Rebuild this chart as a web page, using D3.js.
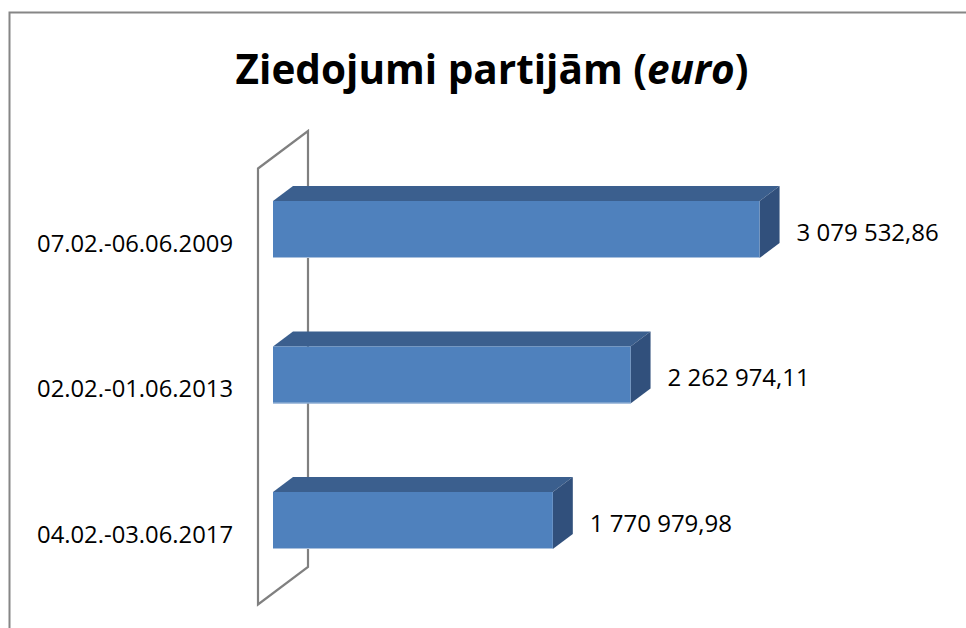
<!DOCTYPE html>
<html>
<head>
<meta charset="utf-8">
<script src="https://cdn.jsdelivr.net/npm/d3@7"></script>
<style>
  body { margin: 0; background: #fff; }
  svg { display: block; }
</style>
</head>
<body>
<div id="chart"></div>
<script>
// donations to parties, euro
const categories = ['07.02.-06.06.2009', '02.02.-01.06.2013', '04.02.-03.06.2017'];
const values = [3079532.86, 2262974.11, 1770979.98];
const valueLabels = ['3 079 532,86', '2 262 974,11', '1 770 979,98'];

const width = 966, height = 628;
const depthX = 20, depthY = 15;   // 3d offset of bar depth
const barH = 57;
const font = '"Open Sans", "Noto Sans", sans-serif';

const svg = d3.select('#chart').append('svg')
  .attr('width', width)
  .attr('height', height);

// chart frame (runs off right/bottom edge)
svg.append('rect')
  .attr('x', 9.5).attr('y', 12.5)
  .attr('width', 1000).attr('height', 700)
  .attr('fill', '#fff')
  .attr('stroke', '#868686')
  .attr('stroke-width', 2);

// title
const title = svg.append('text')
  .attr('x', 492).attr('y', 84)
  .attr('text-anchor', 'middle')
  .attr('font-family', font)
  .attr('font-weight', 'bold')
  .attr('font-size', 40.5)
  .attr('fill', '#000');
title.append('tspan').text('Ziedojumi partijām (');
title.append('tspan').attr('font-style', 'italic').text('euro');
title.append('tspan').text(')');

const x = d3.scaleLinear().domain([0, 3500000]).range([273, 826]);
const y = d3.scalePoint().domain(categories).range([229.5, 520.5]);

// back wall
const wallL = 258, wallR = 308, wallTop = 131, wallBot = 567;
const wallDy = (wallR - wallL) * depthY / depthX;
svg.append('path')
  .attr('d', `M${wallL},${wallTop + wallDy}L${wallR},${wallTop}L${wallR},${wallBot}L${wallL},${wallBot + wallDy}Z`)
  .attr('fill', 'none')
  .attr('stroke', '#808080')
  .attr('stroke-width', 2.2);

const rows = categories.map((c, i) => ({ cat: c, value: values[i], label: valueLabels[i] }));

const bar = svg.selectAll('.bar')
  .data(rows)
  .enter()
  .append('g')
  .attr('class', 'bar');

// top face
bar.append('path')
  .attr('d', d => {
    const x0 = x(0), x1 = x(d.value), t = y(d.cat) - barH / 2;
    return `M${x0},${t}L${x0 + depthX},${t - depthY}L${x1 + depthX},${t - depthY}L${x1},${t}Z`;
  })
  .attr('fill', '#3b5f8e');

// side face
bar.append('path')
  .attr('d', d => {
    const x1 = x(d.value), t = y(d.cat) - barH / 2;
    return `M${x1},${t}L${x1 + depthX},${t - depthY}L${x1 + depthX},${t - depthY + barH}L${x1},${t + barH}Z`;
  })
  .attr('fill', '#31507c');

// front face
bar.append('rect')
  .attr('x', x(0))
  .attr('y', d => y(d.cat) - barH / 2)
  .attr('width', d => x(d.value) - x(0))
  .attr('height', barH)
  .attr('fill', '#4f81bd');

bar.append('line')
  .attr('x1', x(0))
  .attr('x2', d => x(d.value))
  .attr('y1', d => y(d.cat) + barH / 2 - 0.5)
  .attr('y2', d => y(d.cat) + barH / 2 - 0.5)
  .attr('stroke', '#a9c0dd')
  .attr('stroke-width', 1);

// value labels
bar.append('text')
  .attr('x', d => x(d.value) + depthX + 17)
  .attr('y', d => y(d.cat) + 11)
  .attr('font-family', font)
  .attr('font-size', 24)
  .attr('fill', '#000')
  .text(d => d.label);

// category labels
svg.selectAll('.cat')
  .data(categories)
  .enter()
  .append('text')
  .attr('class', 'cat')
  .attr('x', 233)
  .attr('y', d => y(d) + 22)
  .attr('text-anchor', 'end')
  .attr('font-family', font)
  .attr('font-size', 23.8)
  .attr('fill', '#000')
  .text(d => d);
</script>
</body>
</html>
